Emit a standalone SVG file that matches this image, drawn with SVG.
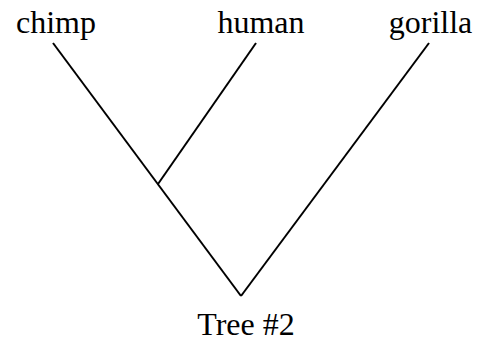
<svg xmlns="http://www.w3.org/2000/svg" width="478" height="341" viewBox="0 0 478 341">
  <style>
    .label { font-family: "Liberation Serif", "Times New Roman", serif; font-size: 32px; fill: #000; }
    .edge { stroke: #000; stroke-width: 2; fill: none; stroke-linecap: butt; }
  </style>
  <rect width="478" height="341" fill="#fff"/>
  <g id="connectors">
    <line class="edge" x1="53" y1="43" x2="241" y2="296"/>
    <line class="edge" x1="256" y1="43" x2="158" y2="184"/>
    <line class="edge" x1="429" y1="43" x2="241" y2="296"/>
  </g>
  <g id="chimp"><text class="label" x="56" y="33" text-anchor="middle">chimp</text></g>
  <g id="human"><text class="label" x="261" y="33" text-anchor="middle">human</text></g>
  <g id="gorilla"><text class="label" x="430.5" y="33" text-anchor="middle">gorilla</text></g>
  <g id="root"><text class="label" x="246" y="335" text-anchor="middle">Tree #2</text></g>
</svg>
